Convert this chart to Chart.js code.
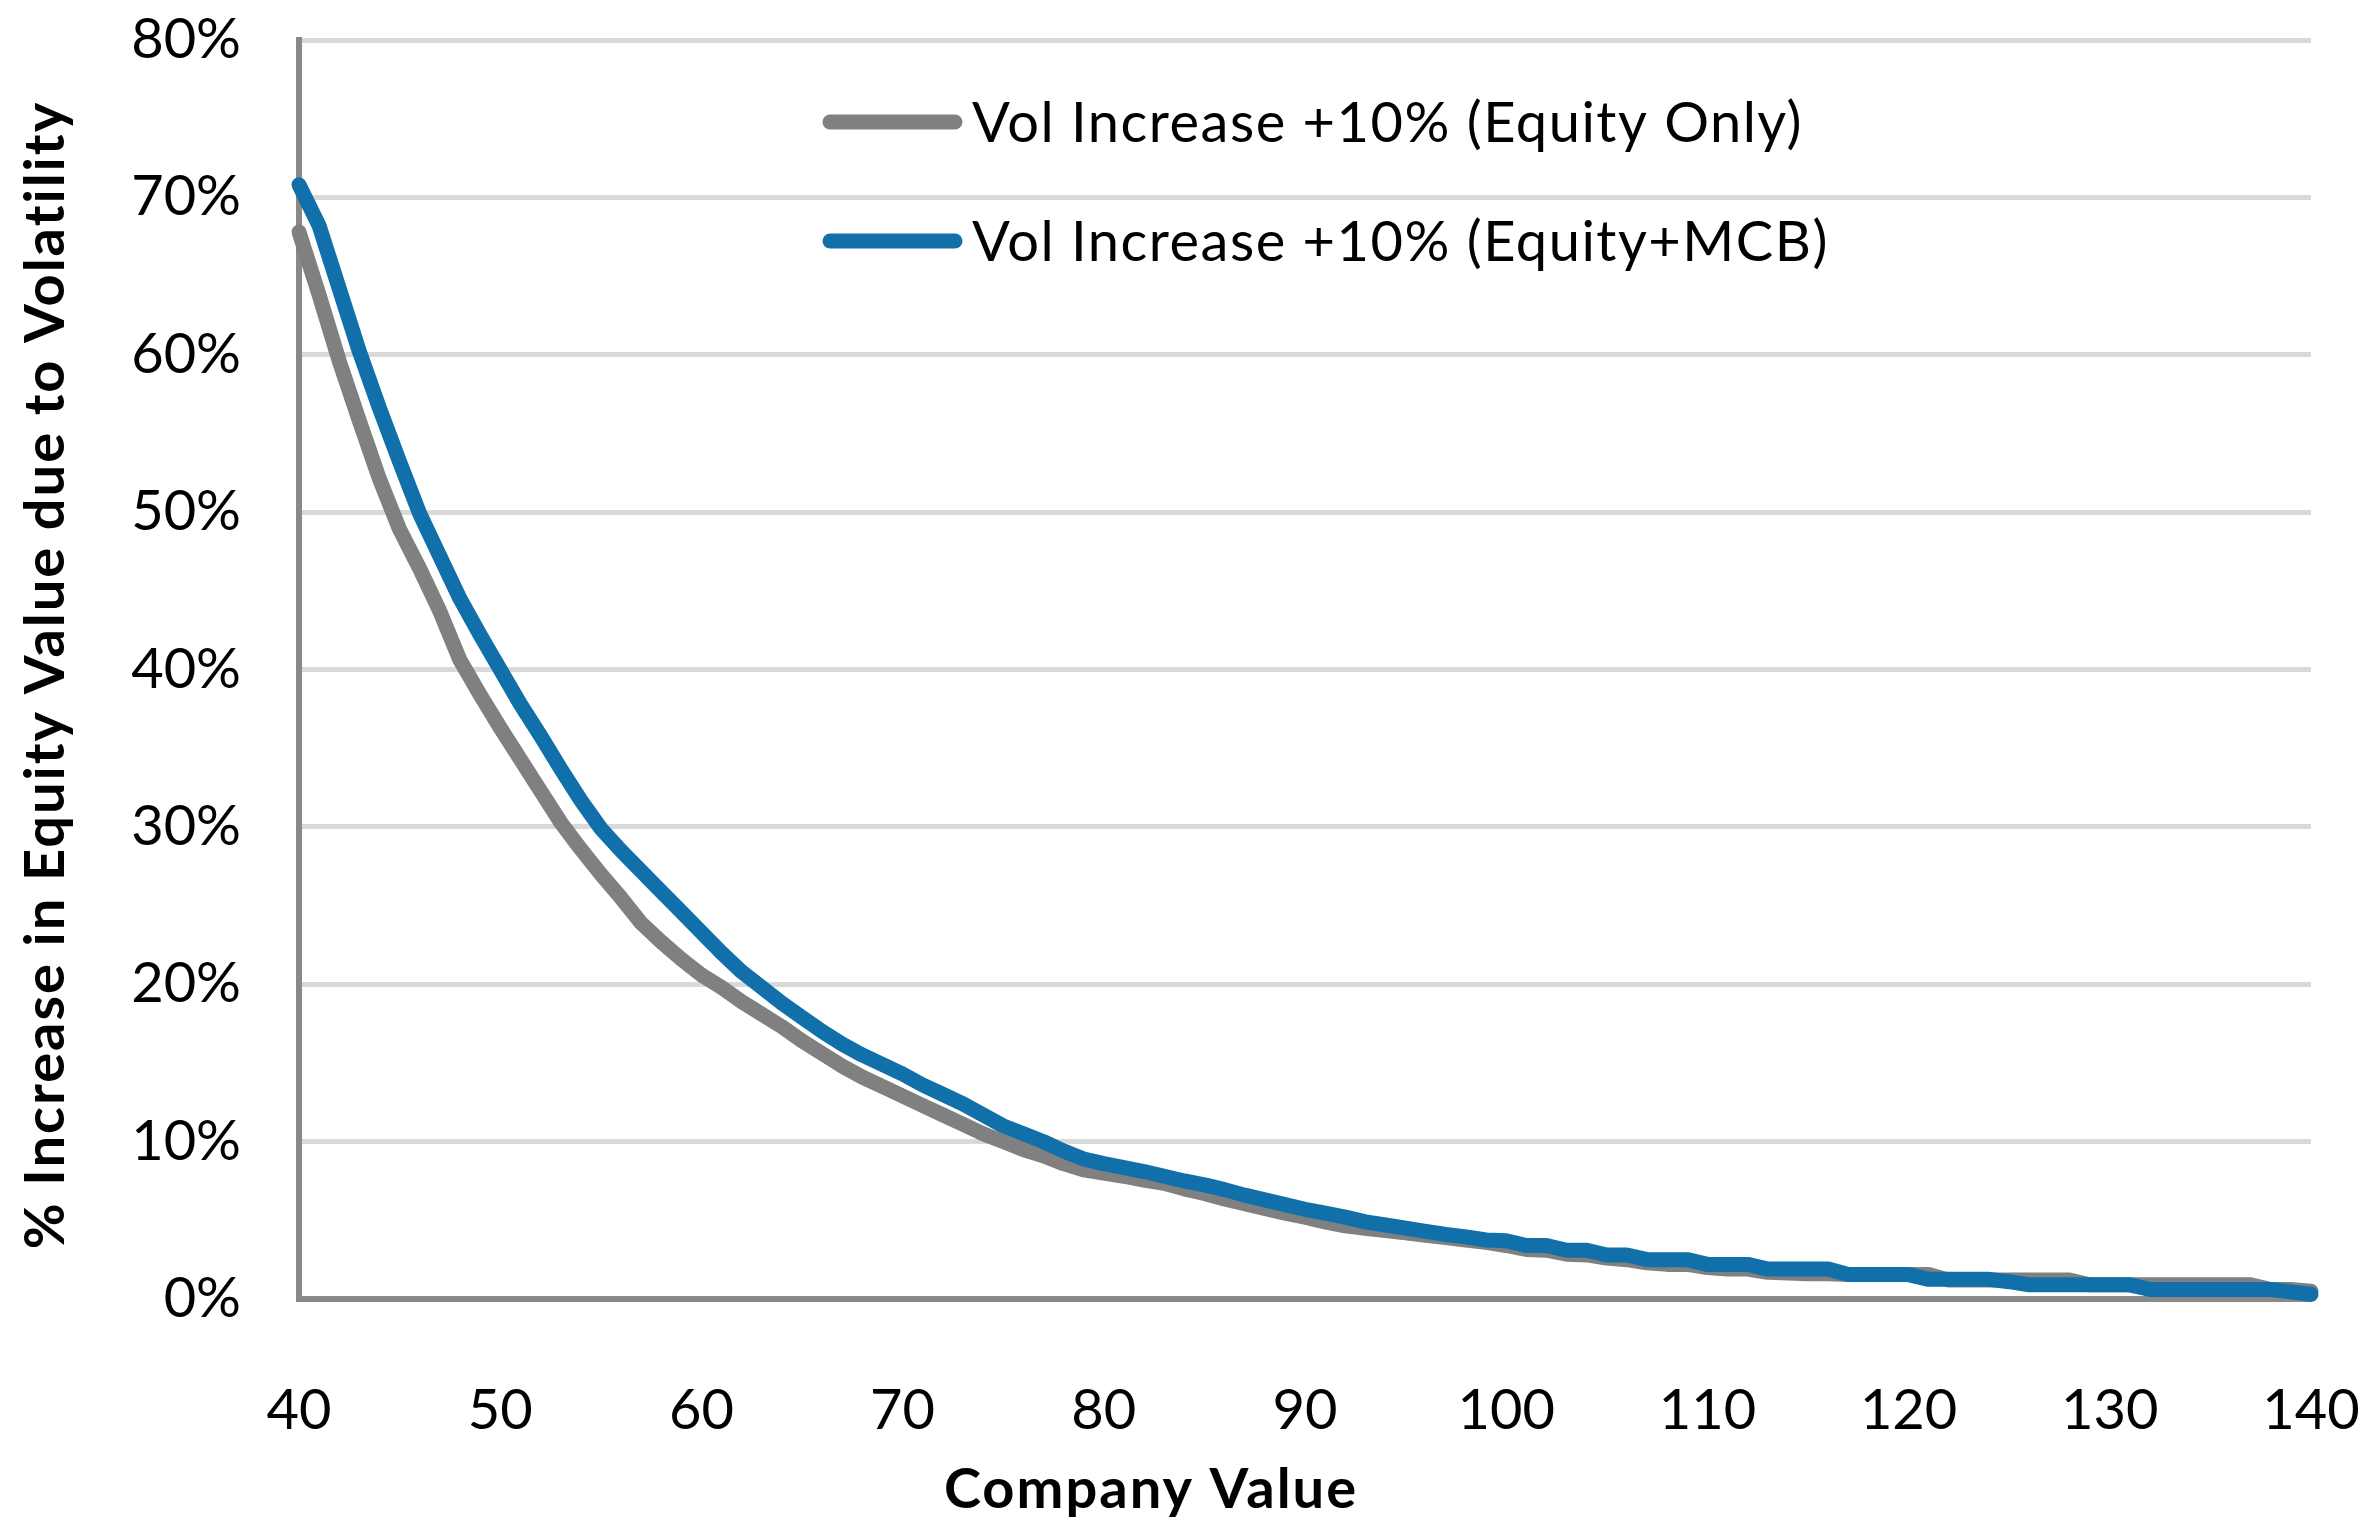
<!DOCTYPE html>
<html>
<head>
<meta charset="utf-8">
<title>Equity Value vs Volatility</title>
<script src="https://cdn.jsdelivr.net/npm/chart.js@4.4.1/dist/chart.umd.min.js"></script>
<style>
  html, body { margin: 0; padding: 0; background: #ffffff; }
  #chartBox { width: 2365px; height: 1532px; }
</style>
</head>
<body>
<div id="chartBox"><canvas id="volChart" width="2365" height="1532"></canvas></div>
<script>
// company value, 40..140
const companyValues = [
  40, 41, 42, 43, 44, 45, 46, 47, 48, 49,
  50, 51, 52, 53, 54, 55, 56, 57, 58, 59,
  60, 61, 62, 63, 64, 65, 66, 67, 68, 69,
  70, 71, 72, 73, 74, 75, 76, 77, 78, 79,
  80, 81, 82, 83, 84, 85, 86, 87, 88, 89,
  90, 91, 92, 93, 94, 95, 96, 97, 98, 99,
  100, 101, 102, 103, 104, 105, 106, 107, 108, 109,
  110, 111, 112, 113, 114, 115, 116, 117, 118, 119,
  120, 121, 122, 123, 124, 125, 126, 127, 128, 129,
  130, 131, 132, 133, 134, 135, 136, 137, 138, 139,
  140
];

// % increase in equity value, equity only (grey)
const equityOnly = [
  67.8, 63.8, 59.6, 55.8, 52.1, 48.9, 46.4, 43.7, 40.6, 38.4,
  36.3, 34.3, 32.3, 30.3, 28.6, 27.0, 25.5, 23.9, 22.7, 21.6,
  20.6, 19.8, 18.9, 18.1, 17.3, 16.4, 15.6, 14.8, 14.1, 13.5,
  12.9, 12.3, 11.7, 11.1, 10.5, 10.0, 9.5, 9.1, 8.6, 8.2,
  8.0, 7.8, 7.55, 7.35, 7.0, 6.7, 6.35, 6.05, 5.75, 5.45,
  5.2, 4.9, 4.65, 4.5, 4.35, 4.2, 4.05, 3.9, 3.75, 3.6,
  3.4, 3.15, 3.1, 2.85, 2.8, 2.6, 2.5, 2.3, 2.2, 2.2,
  2.0, 1.9, 1.9, 1.7, 1.65, 1.6, 1.6, 1.55, 1.55, 1.55,
  1.55, 1.55, 1.2, 1.2, 1.2, 1.2, 1.2, 1.2, 1.2, 0.9,
  0.9, 0.9, 0.9, 0.9, 0.9, 0.9, 0.9, 0.9, 0.6, 0.6,
  0.5
];

// % increase in equity value, equity + MCB (blue)
const equityMcb = [
  70.8, 68.2, 64.2, 60.2, 56.6, 53.2, 49.9, 47.2, 44.5, 42.2,
  40.0, 37.8, 35.8, 33.7, 31.7, 29.9, 28.5, 27.2, 25.9, 24.6,
  23.3, 22.0, 20.8, 19.8, 18.8, 17.9, 17.0, 16.2, 15.5, 14.9,
  14.3, 13.6, 13.0, 12.4, 11.7, 11.0, 10.5, 10.0, 9.4, 8.9,
  8.6, 8.35, 8.1, 7.8, 7.5, 7.25, 6.95, 6.6, 6.3, 6.0,
  5.7, 5.45, 5.2, 4.9, 4.7, 4.5, 4.3, 4.1, 3.95, 3.75,
  3.7, 3.4, 3.4, 3.1, 3.1, 2.8, 2.8, 2.5, 2.5, 2.5,
  2.2, 2.2, 2.2, 1.9, 1.9, 1.9, 1.9, 1.55, 1.55, 1.55,
  1.55, 1.25, 1.25, 1.25, 1.25, 1.1, 0.9, 0.9, 0.9, 0.9,
  0.9, 0.9, 0.6, 0.6, 0.6, 0.6, 0.6, 0.6, 0.6, 0.45,
  0.3
];

const xTicks = [40, 50, 60, 70, 80, 90, 100, 110, 120, 130, 140];
const yTicks = [0, 10, 20, 30, 40, 50, 60, 70, 80];

const seriesNames = ["Vol Increase +10% (Equity Only)", "Vol Increase +10% (Equity+MCB)"];
const seriesColors = ["#808080", "#1170aa"];

const xTitle = "Company Value";
const yTitle = "% Increase in Equity Value due to Volatility";

function toPoints(values) {
  return companyValues.map((x, i) => ({ x: x, y: values[i] }));
}

// axis titles and legend, placed like the original sheet chart
const extrasPlugin = {
  id: "extras",
  afterDraw(chart) {
    const ctx = chart.ctx;
    ctx.save();
    ctx.fillStyle = "#000000";
    ctx.font = "bold 56px Lato";
    ctx.letterSpacing = "2px";
    ctx.textAlign = "center";
    ctx.textBaseline = "middle";
    ctx.fillText(xTitle, 1151, 1490);

    ctx.translate(46, 675);
    ctx.rotate(-Math.PI / 2);
    ctx.fillText(yTitle, 0, 0);
    ctx.restore();

    ctx.save();
    const rows = [122, 241];
    seriesNames.forEach((name, i) => {
      ctx.strokeStyle = seriesColors[i];
      ctx.lineWidth = 15;
      ctx.lineCap = "round";
      ctx.beginPath();
      ctx.moveTo(830, rows[i]);
      ctx.lineTo(955, rows[i]);
      ctx.stroke();
      ctx.fillStyle = "#000000";
      ctx.font = "56px Lato";
      ctx.letterSpacing = "1.5px";
      ctx.textAlign = "left";
      ctx.textBaseline = "middle";
      ctx.fillText(name, 972, rows[i] + 2);
    });
    ctx.restore();
  }
};

const ctx = document.getElementById("volChart").getContext("2d");
new Chart(ctx, {
  type: "line",
  data: {
    datasets: [
      {
        label: seriesNames[0],
        data: toPoints(equityOnly),
        borderColor: seriesColors[0],
        borderWidth: 15,
        pointRadius: 0,
        tension: 0,
        borderCapStyle: "round",
        borderJoinStyle: "round",
        clip: false,
        order: 2
      },
      {
        label: seriesNames[1],
        data: toPoints(equityMcb),
        borderColor: seriesColors[1],
        borderWidth: 15,
        pointRadius: 0,
        tension: 0,
        borderCapStyle: "round",
        borderJoinStyle: "round",
        clip: false,
        order: 1
      }
    ]
  },
  options: {
    responsive: false,
    animation: false,
    devicePixelRatio: 1,
    layout: { padding: { left: 0, top: 40, right: 54, bottom: 0 } },
    plugins: {
      legend: { display: false },
      tooltip: { enabled: false }
    },
    scales: {
      x: {
        type: "linear",
        min: 40,
        max: 140,
        afterBuildTicks: (s) => { s.ticks = xTicks.map(v => ({ value: v })); },
        afterFit: (s) => {
          s.height = 233;
          s.paddingLeft = 0;
          s.paddingRight = 0;
        },
        grid: { display: false, drawTicks: false },
        border: { display: true, color: "#898989", width: 6 },
        ticks: {
          color: "#000000",
          font: { family: "Lato", size: 56 },
          padding: 78,
          maxRotation: 0,
          autoSkip: false
        }
      },
      y: {
        min: 0,
        max: 80,
        afterBuildTicks: (s) => { s.ticks = yTicks.map(v => ({ value: v })); },
        afterFit: (s) => {
          s.width = 299;
          s.paddingTop = 0;
          s.paddingBottom = 0;
        },
        grid: { color: "#d9d9d9", lineWidth: 5, drawTicks: false },
        border: { display: true, color: "#898989", width: 6 },
        ticks: {
          color: "#000000",
          font: { family: "Lato", size: 56 },
          padding: 58,
          callback: (v) => v + "%"
        }
      }
    }
  },
  plugins: [extrasPlugin]
});
</script>
</body>
</html>
